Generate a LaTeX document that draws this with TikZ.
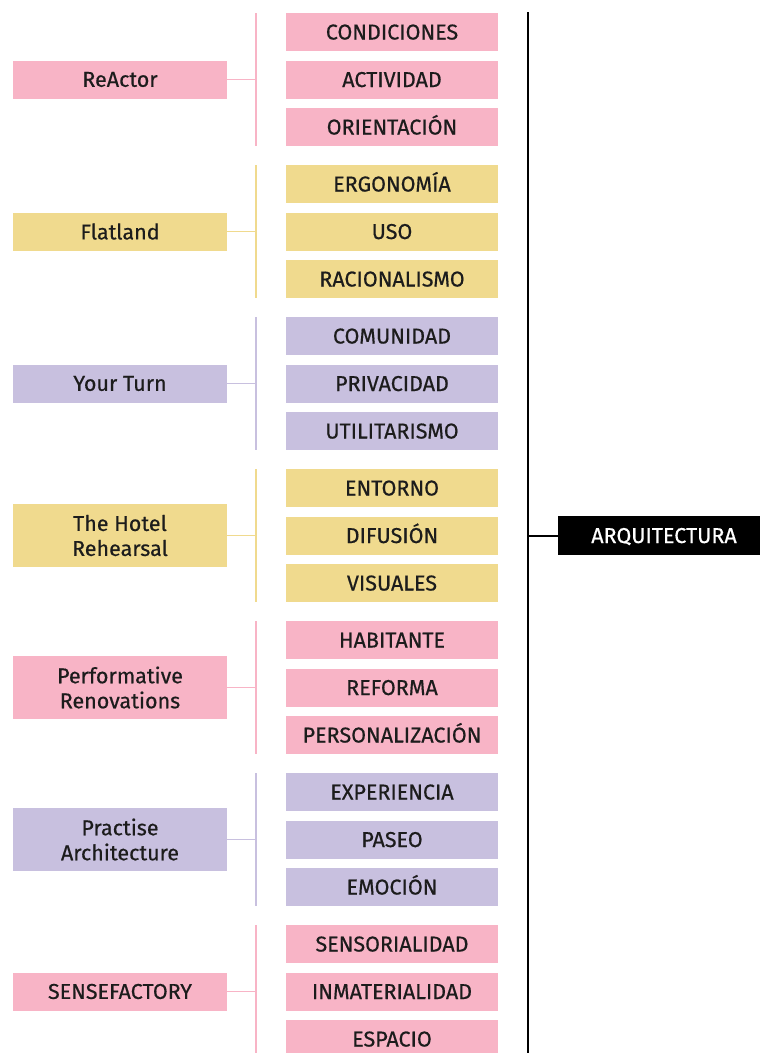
\documentclass[tikz,border=0pt]{standalone}
\usepackage{fontspec}
\setmainfont{Fira Sans}
\newfontfamily\medio{Fira Sans}[FakeBold=0.5]
\usepackage{tikz}
\usetikzlibrary{positioning}
\usepackage{xcolor}
\definecolor{rosa}{HTML}{F8B4C6}
\definecolor{amarillo}{HTML}{F0DA8E}
\definecolor{lila}{HTML}{C8C0DF}
\definecolor{tinta}{HTML}{1C1C1C}

\tikzset{
	concepto/.style={fill=#1, minimum width=212pt, minimum height=38pt, inner sep=0pt, text=tinta, font=\medio\fontsize{21.5}{25}\selectfont, text height=15pt, text depth=0pt},
	proyecto/.style={fill=#1, minimum width=214pt, minimum height=38pt, inner sep=0pt, text=tinta, align=center, font=\medio\fontsize{21.5}{25}\selectfont},
	enlace/.style={draw=#1, line width=1.5pt}
}

\begin{document}
\begin{tikzpicture}[x=1pt,y=-1pt]
				\useasboundingbox (0,0) rectangle (760,1053);
				% ReActor
				\node[proyecto=rosa] (reactor) at (120,79.5) {ReActor};
				\node[concepto=rosa] (condiciones) at (392,32) {CONDICIONES};
				\node[concepto=rosa] (actividad) at (392,79.5) {ACTIVIDAD};
				\node[concepto=rosa] (orientacion) at (392,127) {ORIENTACIÓN};
				\coordinate (g1a) at (256,13);
				\coordinate (g1b) at (256,146);
				\draw[enlace=rosa] (g1a) -- (g1b);
				\draw[enlace=rosa] (reactor.east) -- (reactor.east -| g1a);
				% Flatland
				\node[proyecto=amarillo] (flatland) at (120,231.5) {Flatland};
				\node[concepto=amarillo] (ergonomia) at (392,184) {ERGONOMÍA};
				\node[concepto=amarillo] (uso) at (392,231.5) {USO};
				\node[concepto=amarillo] (racionalismo) at (392,279) {RACIONALISMO};
				\coordinate (g2a) at (256,165);
				\coordinate (g2b) at (256,298);
				\draw[enlace=amarillo] (g2a) -- (g2b);
				\draw[enlace=amarillo] (flatland.east) -- (flatland.east -| g2a);
				% Your Turn
				\node[proyecto=lila] (yourturn) at (120,383.5) {Your Turn};
				\node[concepto=lila] (comunidad) at (392,336) {COMUNIDAD};
				\node[concepto=lila] (privacidad) at (392,383.5) {PRIVACIDAD};
				\node[concepto=lila] (utilitarismo) at (392,431) {UTILITARISMO};
				\coordinate (g3a) at (256,317);
				\coordinate (g3b) at (256,450);
				\draw[enlace=lila] (g3a) -- (g3b);
				\draw[enlace=lila] (yourturn.east) -- (yourturn.east -| g3a);
				% The Hotel Rehearsal
				\node[proyecto=amarillo, minimum height=63pt] (hotel) at (120,535.5) {The Hotel\\Rehearsal};
				\node[concepto=amarillo] (entorno) at (392,488) {ENTORNO};
				\node[concepto=amarillo] (difusion) at (392,535.5) {DIFUSIÓN};
				\node[concepto=amarillo] (visuales) at (392,583) {VISUALES};
				\coordinate (g4a) at (256,469);
				\coordinate (g4b) at (256,602);
				\draw[enlace=amarillo] (g4a) -- (g4b);
				\draw[enlace=amarillo] (hotel.east) -- (hotel.east -| g4a);
				% Performative Renovations
				\node[proyecto=rosa, minimum height=63pt] (performative) at (120,687.5) {Performative\\Renovations};
				\node[concepto=rosa] (habitante) at (392,640) {HABITANTE};
				\node[concepto=rosa] (reforma) at (392,687.5) {REFORMA};
				\node[concepto=rosa] (personalizacion) at (392,735) {PERSONALIZACIÓN};
				\coordinate (g5a) at (256,621);
				\coordinate (g5b) at (256,754);
				\draw[enlace=rosa] (g5a) -- (g5b);
				\draw[enlace=rosa] (performative.east) -- (performative.east -| g5a);
				% Practise Architecture
				\node[proyecto=lila, minimum height=63pt] (practise) at (120,839.5) {Practise\\Architecture};
				\node[concepto=lila] (experiencia) at (392,792) {EXPERIENCIA};
				\node[concepto=lila] (paseo) at (392,839.5) {PASEO};
				\node[concepto=lila] (emocion) at (392,887) {EMOCIÓN};
				\coordinate (g6a) at (256,773);
				\coordinate (g6b) at (256,906);
				\draw[enlace=lila] (g6a) -- (g6b);
				\draw[enlace=lila] (practise.east) -- (practise.east -| g6a);
				% SENSEFACTORY
				\node[proyecto=rosa] (sensefactory) at (120,991.5) {SENSEFACTORY};
				\node[concepto=rosa] (sensorialidad) at (392,944) {SENSORIALIDAD};
				\node[concepto=rosa] (inmaterialidad) at (392,991.5) {INMATERIALIDAD};
				\node[concepto=rosa] (espacio) at (392,1039) {ESPACIO};
				\coordinate (g7a) at (256,925);
				\coordinate (g7b) at (256,1053);
				\draw[enlace=rosa] (g7a) -- (g7b);
				\draw[enlace=rosa] (sensefactory.east) -- (sensefactory.east -| g7a);
				% ARQUITECTURA
				\coordinate (ejea) at (528,12);
				\coordinate (ejeb) at (528,1053);
				\draw[line width=2pt, black] (ejea) -- (ejeb);
				\node[fill=black, text=white, minimum width=212pt, minimum height=39pt, inner sep=0pt, font=\medio\fontsize{21.5}{25}\selectfont, text height=15pt, text depth=0pt] (arquitectura) at (664,535.5) {ARQUITECTURA};
				\draw[line width=2pt, black] (arquitectura.west) -- (arquitectura.west -| ejea);
			\end{tikzpicture}
\end{document}
